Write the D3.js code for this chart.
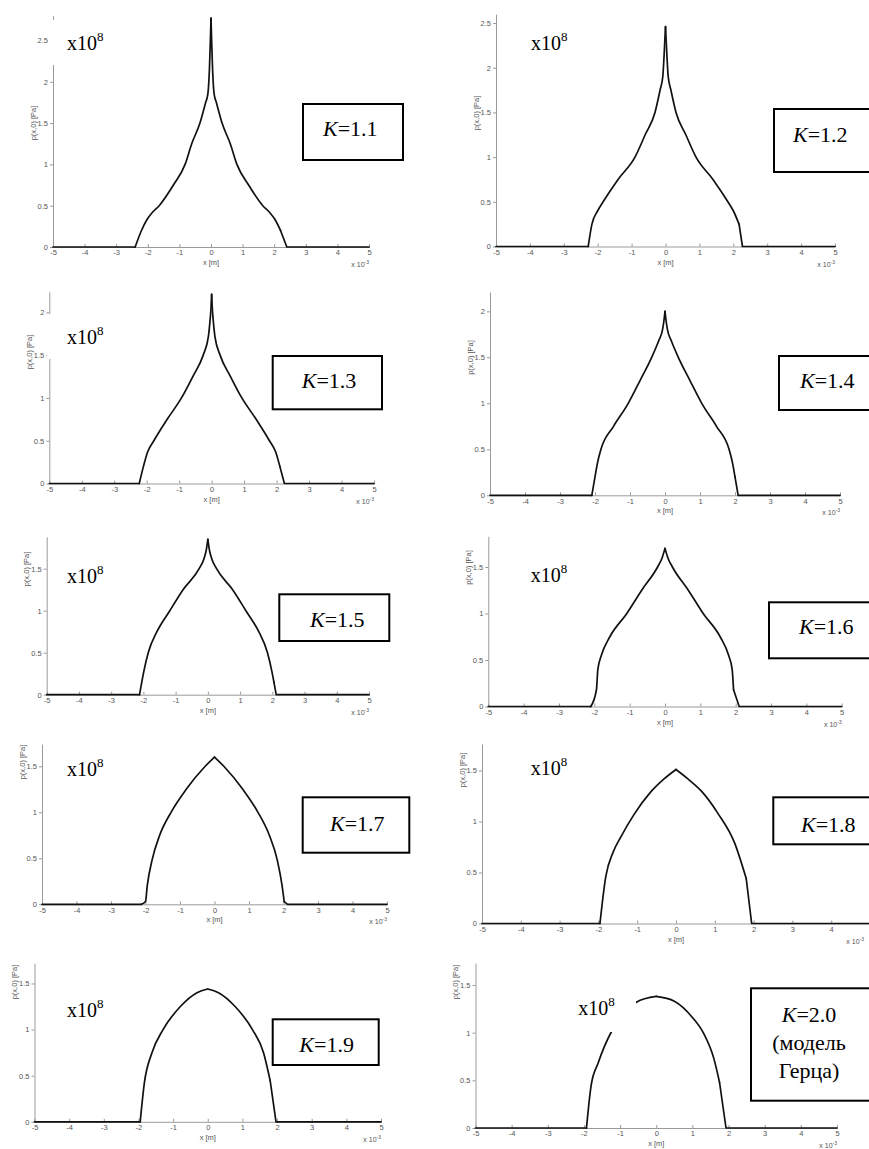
<!DOCTYPE html>
<html>
<head>
<meta charset="utf-8">
<script src="https://cdn.jsdelivr.net/npm/d3@7"></script>
<style>
  body { margin: 0; background: #fff; }
  svg text.sans { font-family: "Liberation Sans", Arial, sans-serif; fill: #555; }
  svg text.serif, svg text.serif tspan { font-family: "Liberation Serif", "Times New Roman", Times, serif; fill: #000; }
</style>
</head>
<body>
<div class="viz"></div>
<script>
// tick values and panel labels
var xTicks = [ -5, -4, -3, -2, -1, 0, 1, 2, 3, 4, 5 ],
    kValues = [ "1.1", "1.2", "1.3", "1.4", "1.5", "1.6", "1.7", "1.8", "1.9", "2.0" ],
    kNotes = [ [], [], [], [], [], [], [], [], [], [ "(модель", "Герца)" ] ],
    yMax = [ 2.8, 2.6, 2.24, 2.21, 1.88, 1.83, 1.74, 1.76, 1.72, 1.73 ],
    showScale = [ true, true, true, false, true, true, true, true, true, true ];

// pressure p(x,0) [x1e8 Pa] against x [x1e-3 m]
var curveK11 = [ [-5,0],[-2.4,0],[-2.2,0.2],[-2.03,0.33],[-1.85,0.42],[-1.64,0.5],[-1.19,0.75],[-0.82,1.0],[-0.61,1.25],[-0.35,1.5],[-0.17,1.75],[-0.1,1.85],[-0.05,2.15],[-0.02,2.5],[0,2.77],
                 [0.02,2.5],[0.05,2.15],[0.1,1.85],[0.17,1.75],[0.35,1.5],[0.61,1.25],[0.82,1.0],[1.19,0.75],[1.64,0.5],[1.85,0.42],[2.03,0.33],[2.2,0.2],[2.4,0],[5,0] ];
var curveK12 = [ [-5,0],[-2.28,0],[-2.17,0.25],[-2.0,0.4],[-1.84,0.5],[-1.4,0.75],[-0.9,1.0],[-0.6,1.25],[-0.31,1.5],[-0.16,1.75],[-0.08,1.9],[-0.04,2.15],[0,2.46],
                 [0.04,2.15],[0.08,1.9],[0.16,1.75],[0.31,1.5],[0.6,1.25],[0.9,1.0],[1.4,0.75],[1.84,0.5],[2.0,0.4],[2.17,0.25],[2.27,0],[5,0] ];
var curveK13 = [ [-5,0],[-2.23,0],[-2.1,0.2],[-1.97,0.37],[-1.78,0.5],[-1.37,0.75],[-0.93,1.0],[-0.58,1.25],[-0.26,1.5],[-0.1,1.72],[-0.05,1.9],[-0.02,2.05],[0,2.21],
                 [0.02,2.05],[0.05,1.9],[0.1,1.72],[0.26,1.5],[0.58,1.25],[0.93,1.0],[1.37,0.75],[1.78,0.5],[1.97,0.37],[2.1,0.2],[2.24,0],[5,0] ];
var curveK14 = [ [-5,0],[-2.09,0],[-2.0,0.2],[-1.93,0.35],[-1.83,0.5],[-1.47,0.75],[-1.05,1.0],[-0.71,1.25],[-0.38,1.5],[-0.18,1.68],[-0.07,1.8],[-0.03,1.9],[0,2.0],
                 [0.03,1.9],[0.07,1.8],[0.18,1.68],[0.38,1.5],[0.71,1.25],[1.05,1.0],[1.47,0.75],[1.83,0.5],[1.93,0.35],[2.0,0.2],[2.09,0],[5,0] ];
var curveK15 = [ [-5,0],[-2.12,0],[-2.05,0.15],[-1.98,0.29],[-1.85,0.5],[-1.58,0.75],[-1.18,1.0],[-0.77,1.25],[-0.27,1.5],[-0.12,1.62],[-0.05,1.72],[0,1.85],
                 [0.05,1.72],[0.12,1.62],[0.27,1.5],[0.77,1.25],[1.18,1.0],[1.58,0.75],[1.85,0.5],[1.98,0.29],[2.05,0.15],[2.12,0],[5,0] ];
var curveK16 = [ [-5,0],[-2.1,0],[-1.94,0.18],[-1.9,0.4],[-1.8,0.55],[-1.56,0.75],[-1.08,1.0],[-0.66,1.25],[-0.21,1.5],[-0.08,1.6],[0,1.7],
                 [0.08,1.6],[0.21,1.5],[0.66,1.25],[1.08,1.0],[1.56,0.75],[1.8,0.55],[1.9,0.4],[1.94,0.18],[2.1,0],[5,0] ];
var curveK17 = [ [-5,0],[-2.12,0],[-2.0,0.03],[-1.95,0.2],[-1.81,0.48],[-1.59,0.75],[-1.26,1.0],[-0.82,1.25],[-0.27,1.5],[0,1.6],
                 [0.27,1.5],[0.82,1.25],[1.26,1.0],[1.59,0.75],[1.82,0.48],[1.96,0.2],[2.02,0.03],[2.12,0],[5,0] ];
var curveK18 = [ [-5,0],[-1.96,0],[-1.81,0.46],[-1.62,0.7],[-1.42,0.85],[-1.08,1.07],[-0.65,1.29],[-0.3,1.42],[0,1.51],
                 [0.3,1.42],[0.65,1.3],[1.08,1.08],[1.51,0.79],[1.81,0.44],[1.95,0],[5,0] ];
var curveK19 = [ [-5,0],[-1.95,0],[-1.83,0.42],[-1.61,0.75],[-1.29,1.0],[-0.79,1.25],[-0.31,1.4],[0,1.44],
                 [0.31,1.4],[0.79,1.25],[1.29,1.0],[1.61,0.75],[1.8,0.45],[1.97,0],[5,0] ];
var curveK20 = [ [-5,0],[-1.93,0],[-1.8,0.45],[-1.61,0.68],[-1.24,1.01],[-1.0,1.15],[-0.55,1.32],[0,1.38],
                 [0.5,1.33],[1.0,1.16],[1.3,1.0],[1.6,0.72],[1.75,0.48],[1.93,0],[5,0] ];
var curves = [ curveK11, curveK12, curveK13, curveK14, curveK15, curveK16, curveK17, curveK18, curveK19, curveK20 ];

// where each scanned panel sits on the page
var layout = [
    { left: 53,    right: 369,   bottom: 247,    top: 15.7,  ylab: 123,   box: [ 303, 104, 100, 56 ],      kx: 323,   ky: 136,    sx: 67,    sy: 50,     mask: [ 48, 20, 72, 45 ] },
    { left: 496,   right: 835,   bottom: 246.5,  top: 14.1,  ylab: 113,   box: [ 774, 109, 110, 63 ],      kx: 793,   ky: 142,    sx: 531,   sy: 50 },
    { left: 49.3,  right: 374,   bottom: 483.5,  top: 291.8, ylab: 352,   box: [ 272.7, 356, 109.3, 53.3 ], kx: 301.7, ky: 388,    sx: 67,    sy: 344,    mask: [ 47, 314, 74, 45 ] },
    { left: 490,   right: 840,   bottom: 495.3,  top: 292,   ylab: 357.5, box: [ 779, 356, 100, 54 ],      kx: 800,   ky: 388 },
    { left: 46.7,  right: 369,   bottom: 694.7,  top: 536.8, ylab: 569,   box: [ 279.3, 594.3, 110, 46.7 ], kx: 310,   ky: 626.7,  sx: 67,    sy: 582.7 },
    { left: 488.3, right: 841.7, bottom: 706.5,  top: 536.3, ylab: 567.5, box: [ 769, 602.3, 110, 56 ],    kx: 799,   ky: 634.3,  sx: 530.7, sy: 581.7 },
    { left: 42,    right: 387,   bottom: 904.3,  top: 744.2, ylab: 762,   box: [ 302.7, 797.3, 106.6, 55.4 ], kx: 330, ky: 831,    sx: 67,    sy: 775.7 },
    { left: 482,   right: 870,   bottom: 923.5,  top: 744,   ylab: 770,   box: [ 773.3, 797.3, 110, 47 ],  kx: 801,   ky: 831.7,  sx: 530.7, sy: 775 },
    { left: 34.5,  right: 381,   bottom: 1121.8, top: 963.2, ylab: 982,   box: [ 272.7, 1019.3, 106, 45.7 ], kx: 299.3, ky: 1051.7, sx: 67,   sy: 1017.3 },
    { left: 475.5, right: 837,   bottom: 1128,   top: 963.1, ylab: 982,   box: [ 751, 988.3, 130, 112.4 ], kx: 809,   ky: 1021.7, sx: 578.3, sy: 1015, mask: [ 572, 978, 64, 54 ] }
];

var svg = d3.select( ".viz" )
    .append( "svg" )
    .attr( "width", 869 )
    .attr( "height", 1149 );

svg.append( "rect" ).attr( "width", 869 ).attr( "height", 1149 ).attr( "fill", "#fff" );

// split a curve into flat feet and the two flanks, so the contact corners
// and the cusp at the top stay sharp while the flanks are smoothed
var pieces = function( data ) {
    var peak = d3.maxIndex( data, function( d ) { return d[ 1 ]; } );
    var first = data.findIndex( function( d, j ) { return j > 0 && d[ 1 ] > 0; } ) - 1;
    var last = data.length - 1;
    while ( data[ last - 1 ][ 1 ] === 0 ) last--;
    last--;
    return [
        data.slice( 0, first + 1 ),
        data.slice( first, peak + 1 ),
        data.slice( peak, last + 1 ),
        data.slice( last )
    ];
};

curves.forEach( function( data, i ) {
    var L = layout[ i ];
    var x = d3.scaleLinear().domain( [ -5, 5 ] ).range( [ L.left, L.right ] );
    var y = d3.scaleLinear().domain( [ 0, yMax[ i ] ] ).range( [ L.bottom, L.top ] );
    var g = svg.append( "g" );

    var yTicks = d3.range( 0, yMax[ i ] + 1e-9, 0.5 );

    // axes, MATLAB style: x ticks inward, light grey lines
    var xa = g.append( "g" )
        .attr( "transform", "translate(0," + L.bottom + ")" )
        .call( d3.axisBottom( x ).tickValues( xTicks.filter( function( t ) { return x( t ) < 866; } ) )
            .tickSizeInner( -3 ).tickSizeOuter( 0 ).tickPadding( 3 )
            .tickFormat( function( d ) { return String( d ); } ) );
    var ya = g.append( "g" )
        .attr( "transform", "translate(" + L.left + ",0)" )
        .call( d3.axisLeft( y ).tickValues( yTicks ).tickSizeInner( 3 ).tickSizeOuter( 0 ).tickPadding( 2 )
            .tickFormat( function( d ) { return String( d ); } ) );
    [ xa, ya ].forEach( function( a ) {
        a.attr( "font-family", null ).attr( "font-size", null );
        a.selectAll( "path, line" ).attr( "stroke", "#9a9a9a" );
        a.selectAll( "text" ).attr( "class", "sans" ).attr( "fill", null ).style( "font-size", "7.5px" );
    } );

    g.append( "text" ).attr( "class", "sans" )
        .attr( "x", ( L.left + L.right ) / 2 ).attr( "y", L.bottom + 18 )
        .attr( "text-anchor", "middle" ).style( "font-size", "7.5px" )
        .text( "x [m]" );

    var sc = g.append( "text" ).attr( "class", "sans" )
        .attr( "x", Math.min( L.right, 864 ) ).attr( "y", L.bottom + 20 )
        .attr( "text-anchor", "end" ).style( "font-size", "7px" );
    sc.append( "tspan" ).text( "x 10" );
    sc.append( "tspan" ).attr( "dy", -3 ).style( "font-size", "5px" ).text( "-3" );

    g.append( "text" ).attr( "class", "sans" )
        .attr( "transform", "translate(" + ( L.left - 20 ) + "," + L.ylab + ") rotate(-90)" )
        .attr( "text-anchor", "middle" ).attr( "dy", "0.35em" ).style( "font-size", "7.5px" )
        .text( "p(x,0) [Pa]" );

    // the curve
    var flat = d3.line()
        .x( function( d ) { return x( d[ 0 ] ); } )
        .y( function( d ) { return y( d[ 1 ] ); } );
    var smooth = d3.line()
        .x( function( d ) { return x( d[ 0 ] ); } )
        .y( function( d ) { return y( d[ 1 ] ); } )
        .curve( d3.curveMonotoneX );
    var parts = pieces( data );
    g.selectAll( ".part" )
        .data( parts )
        .enter()
        .append( "path" )
        .attr( "class", "part" )
        .attr( "d", function( d, j ) { return ( j === 0 || j === 3 ) ? flat( d ) : smooth( d ); } )
        .attr( "fill", "none" )
        .attr( "stroke", "#111" )
        .attr( "stroke-width", 1.7 )
        .attr( "stroke-linejoin", "round" )
        .attr( "stroke-linecap", "round" );

    // pasted label that hides part of the plot in the scan
    if ( L.mask ) {
        g.append( "rect" )
            .attr( "x", L.mask[ 0 ] ).attr( "y", L.mask[ 1 ] )
            .attr( "width", L.mask[ 2 ] ).attr( "height", L.mask[ 3 ] )
            .attr( "fill", "#fff" );
    }

    if ( showScale[ i ] ) {
        var s = g.append( "text" ).attr( "class", "serif" )
            .attr( "x", L.sx ).attr( "y", L.sy ).style( "font-size", "20px" );
        s.append( "tspan" ).text( "x10" );
        s.append( "tspan" ).attr( "dy", -9 ).style( "font-size", "13px" ).text( "8" );
    }

    // K box
    g.append( "rect" )
        .attr( "x", L.box[ 0 ] ).attr( "y", L.box[ 1 ] )
        .attr( "width", L.box[ 2 ] ).attr( "height", L.box[ 3 ] )
        .attr( "fill", "#fff" ).attr( "stroke", "#000" ).attr( "stroke-width", 2 );

    var notes = kNotes[ i ];
    var kt = g.append( "text" ).attr( "class", "serif" )
        .attr( "x", L.kx ).attr( "y", L.ky ).style( "font-size", "22px" )
        .attr( "text-anchor", notes.length ? "middle" : "start" );
    kt.append( "tspan" ).style( "font-style", "italic" ).text( "K" );
    kt.append( "tspan" ).text( "=" + kValues[ i ] );

    notes.forEach( function( t, j ) {
        g.append( "text" ).attr( "class", "serif" )
            .attr( "x", L.kx ).attr( "y", L.ky + 28 * ( j + 1 ) )
            .style( "font-size", "22px" ).attr( "text-anchor", "middle" )
            .text( t );
    } );
} );
</script>
</body>
</html>
